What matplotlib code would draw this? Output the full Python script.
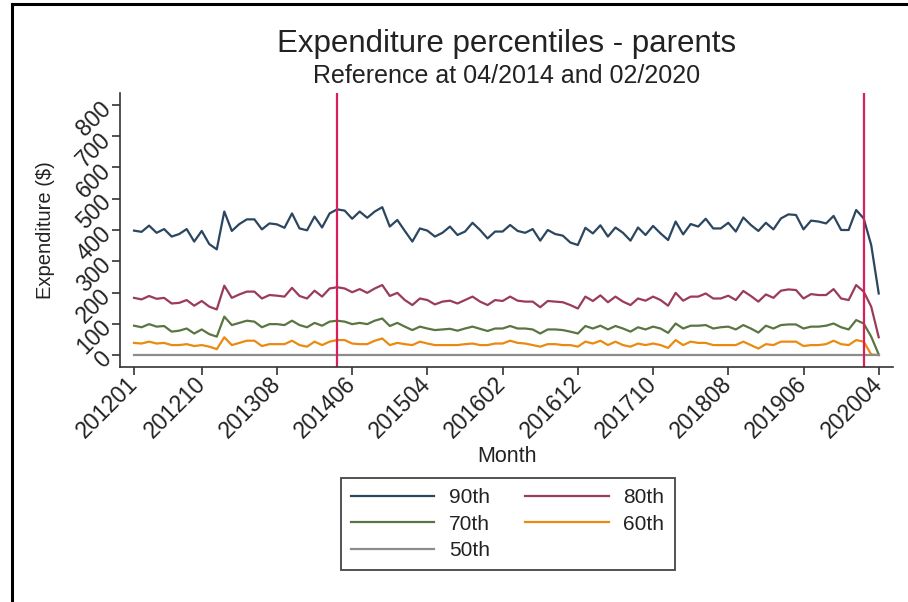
import matplotlib
matplotlib.use("Agg")
import matplotlib.pyplot as plt
import numpy as np
from matplotlib.lines import Line2D

plt.rcParams['font.family'] = ['Liberation Sans', 'DejaVu Sans']

# monthly percentiles, 201201 .. 202004 (100 months)
p90 = [398, 394, 414, 391, 403, 379, 387, 403, 363, 397,
       355, 338, 459, 397, 419, 434, 434, 402, 421, 418,
       407, 453, 405, 399, 443, 408, 453, 466, 462, 436,
       459, 439, 459, 473, 411, 432, 397, 363, 405, 398,
       379, 391, 411, 384, 395, 423, 400, 373, 395, 395,
       416, 397, 391, 403, 366, 400, 387, 382, 360, 352,
       407, 389, 415, 379, 408, 391, 366, 408, 384, 413,
       389, 368, 427, 386, 419, 411, 436, 405, 405, 423,
       395, 440, 416, 397, 423, 402, 437, 450, 448, 402,
       430, 427, 421, 445, 400, 400, 464, 437, 352, 197]
p80 = [183, 178, 189, 180, 183, 165, 167, 176, 158, 173,
       155, 146, 222, 183, 194, 203, 203, 181, 192, 190,
       187, 215, 189, 181, 206, 187, 213, 217, 213, 201,
       211, 199, 213, 224, 189, 199, 176, 160, 181, 176,
       162, 171, 174, 165, 176, 187, 171, 160, 176, 173,
       187, 174, 171, 171, 153, 173, 171, 169, 160, 149,
       187, 173, 191, 169, 187, 171, 160, 181, 174, 187,
       176, 158, 199, 174, 187, 187, 197, 181, 181, 190,
       176, 205, 189, 171, 194, 183, 206, 210, 208, 181,
       195, 192, 192, 211, 181, 176, 224, 203, 155, 57]
p70 = [94, 89, 99, 91, 93, 75, 78, 85, 69, 82,
       67, 59, 123, 96, 103, 110, 107, 89, 99, 99,
       96, 110, 96, 89, 103, 94, 107, 110, 107, 99,
       103, 99, 110, 117, 93, 103, 91, 80, 91, 85,
       80, 82, 84, 78, 85, 91, 84, 77, 85, 85,
       93, 85, 85, 82, 69, 82, 82, 80, 75, 69,
       93, 85, 94, 82, 93, 85, 75, 89, 82, 91,
       85, 71, 101, 85, 94, 94, 96, 85, 89, 91,
       82, 96, 85, 72, 94, 85, 96, 98, 98, 85,
       91, 91, 94, 101, 89, 82, 112, 101, 59, 2]
p60 = [39, 37, 43, 37, 39, 32, 32, 35, 29, 32,
       27, 19, 57, 32, 39, 46, 46, 29, 35, 35,
       35, 46, 32, 27, 43, 32, 43, 48, 48, 37,
       35, 35, 46, 53, 32, 39, 35, 32, 43, 37,
       32, 32, 32, 32, 35, 37, 32, 32, 37, 37,
       46, 39, 37, 32, 27, 35, 35, 32, 32, 27,
       43, 37, 46, 32, 43, 32, 27, 37, 32, 37,
       32, 23, 48, 32, 43, 39, 39, 32, 32, 32,
       32, 43, 32, 21, 35, 32, 43, 43, 43, 29,
       32, 32, 35, 46, 35, 32, 48, 43, 2, 0]
p50 = [0, 0, 0, 0, 0, 0, 0, 0, 0, 0, 0, 0, 0, 0, 0, 0, 0, 0, 0, 0,
       0, 0, 0, 0, 0, 0, 0, 0, 0, 0, 0, 0, 0, 0, 0, 0, 0, 0, 0, 0,
       0, 0, 0, 0, 0, 0, 0, 0, 0, 0, 0, 0, 0, 0, 0, 0, 0, 0, 0, 0,
       0, 0, 0, 0, 0, 0, 0, 0, 0, 0, 0, 0, 0, 0, 0, 0, 0, 0, 0, 0,
       0, 0, 0, 0, 0, 0, 0, 0, 0, 0, 0, 0, 0, 0, 0, 0, 0, 0, 0, 0]

tick_pos = [0, 9, 19, 29, 39, 49, 59, 69, 79, 89, 99]
tick_labels = ['201201', '201210', '201308', '201406', '201504', '201602',
               '201612', '201710', '201808', '201906', '202004']
ref_months = [27, 97]   # 04/2014 and 02/2020

series = [p90, p80, p70, p60, p50]
names = ['90th', '80th', '70th', '60th', '50th']
colors = ['#2b4660', '#9b3b5c', '#5b7542', '#ea8a10', '#8c8c8c']

x = np.arange(len(p90))

fig = plt.figure(figsize=(9.08, 6.02), dpi=100)
ax = fig.add_axes([0.1322, 0.3904, 0.8513, 0.4551])

lines = {}
for s, n, c in zip(series, names, colors):
    lines[n], = ax.plot(x, s, color=c, lw=1.6, label=n)

for r in ref_months:
    ax.axvline(r, color='#d81f5a', lw=1.6)

ax.set_xlim(-1.86, 100.9)
ax.set_ylim(-38, 838)
ax.set_yticks(range(0, 900, 100))
ax.set_yticklabels(['0', '100', '200', '300', '400', '500', '600', '700', '800'])
ax.set_xticks(tick_pos)
ax.set_xticklabels(tick_labels)

for sp in ['top', 'right']:
    ax.spines[sp].set_visible(False)
for sp in ['left', 'bottom']:
    ax.spines[sp].set_color('#333333')
    ax.spines[sp].set_linewidth(1.2)

ax.tick_params(axis='both', direction='out', length=6, width=1.2,
               color='#333333', labelsize=16.5, labelcolor='#222222')
ax.tick_params(axis='y', pad=3)
ax.tick_params(axis='x', pad=4)
for lab in ax.get_yticklabels():
    lab.set_rotation(45)
    lab.set_rotation_mode('anchor')
    lab.set_ha('right')
    lab.set_va('center')
for lab in ax.get_xticklabels():
    lab.set_rotation(45)
    lab.set_rotation_mode('anchor')
    lab.set_ha('right')
    lab.set_va('center')

ax.set_ylabel('Expenditure ($)', fontsize=14.5, color='#222222')
ax.yaxis.set_label_coords(-0.084, 0.5)
ax.set_xlabel('Month', fontsize=15.5, color='#222222', va='center')
ax.xaxis.set_label_coords(0.5, -0.328)

fig.text(0.558, 0.927, 'Expenditure percentiles - parents', ha='center',
         va='center', fontsize=22.5, color='#222222')
fig.text(0.558, 0.873, 'Reference at 04/2014 and 02/2020', ha='center',
         va='center', fontsize=18, color='#222222')

# row-wise legend: 90th 80th / 70th 60th / 50th
order = ['90th', '70th', '50th', '80th', '60th']
leg = fig.legend([lines[n] for n in order], order, ncol=2, loc='upper center',
                 bbox_to_anchor=(0.559, 1 - 478 / 602), borderaxespad=0,
                 fontsize=15, handlelength=4.0, handletextpad=0.7,
                 columnspacing=1.7, labelspacing=0.35, borderpad=0.5,
                 fancybox=False, edgecolor='#444444', framealpha=1)
leg.get_frame().set_linewidth(1.3)
for t in leg.get_texts():
    t.set_color('#222222')

# outer frame (left and top edges visible in the source)
fig.add_artist(Line2D([12 / 908, 12 / 908], [0, 1 - 4 / 602],
                      transform=fig.transFigure, color='black', lw=2.2))
fig.add_artist(Line2D([12 / 908, 1], [1 - 4 / 602, 1 - 4 / 602],
                      transform=fig.transFigure, color='black', lw=2.2))

fig.savefig('out.png', dpi=100)
